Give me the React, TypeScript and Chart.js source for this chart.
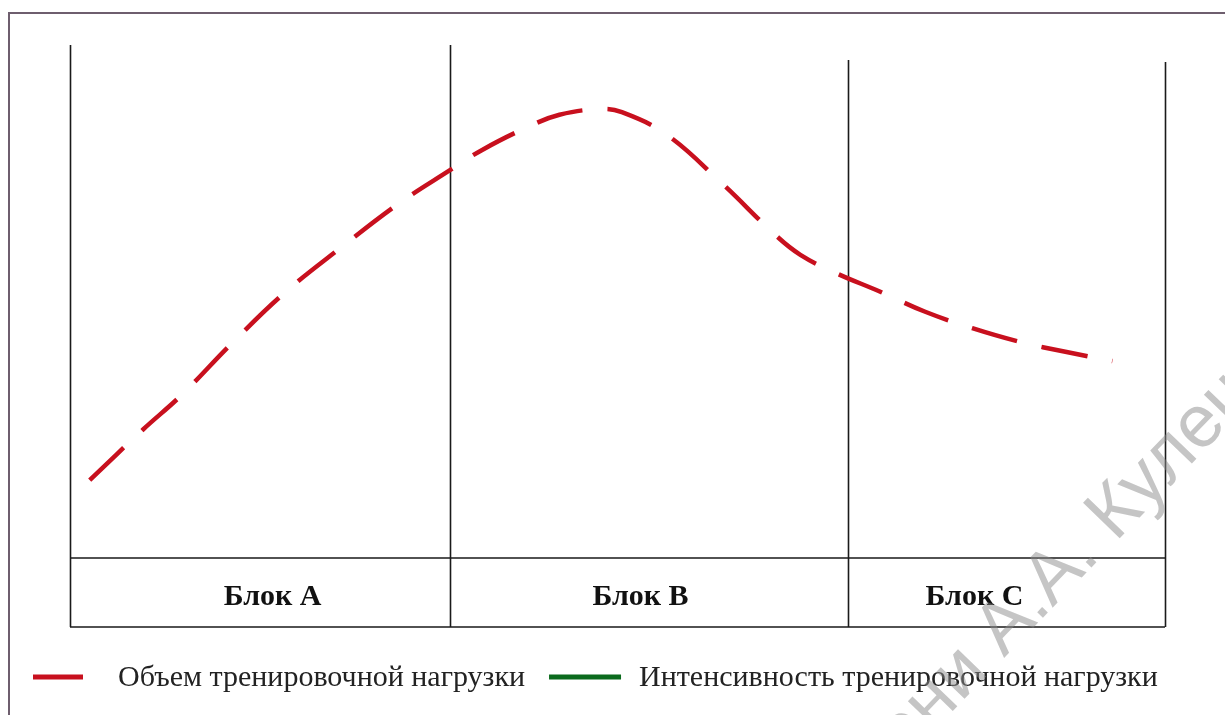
import React, { useEffect, useRef } from "react";
import { Chart, registerables } from "chart.js";

Chart.register(...registerables);

// ---- data ----
const blockLabels = ["Блок А", "Блок В", "Блок С"];
const blockEdges = [0, 34.7, 71.05, 100];
const blockEdgeTops = [100, 100, 97.1, 96.7];
const blockLabelX = [18.5, 52.1, 82.6];

const volumeX = [1.8, 6.7, 10.2, 14.8, 19.6, 24.8, 30.1, 34.7, 37.6, 41.8, 44.7, 48.4, 50.4, 54.5, 59.5, 64.4, 66.7, 69.9, 74.0, 78.1, 82.4, 86.8, 90.9, 95.2];
const volumeY = [15.2, 25.1, 31.8, 41.9, 51.7, 60.6, 69.2, 75.6, 79.5, 84.0, 86.4, 87.5, 86.9, 82.5, 73.1, 63.0, 59.1, 55.6, 51.9, 48.0, 44.8, 42.1, 40.2, 38.4];
const intensityX: number[] = [];
const intensityY: number[] = [];

const seriesNames = ["Объем тренировочной нагрузки", "Интенсивность тренировочной нагрузки"];
const seriesColors = ["#c8101e", "#0b6b1d"];

const watermarkLeft = "МГУ имени ";
const watermarkRight = "А.А. Кулешова";

const W = 1225;
const H = 715;

const decorPlugin = {
  id: "decor",
  beforeDatasetsDraw(chart: any) {
    const { ctx, chartArea, scales } = chart;
    const xs = scales.x;
    const ys = scales.y;
    const bottom = chartArea.bottom;
    const tableBottom = bottom + 69;
    ctx.save();
    // outer frame
    ctx.strokeStyle = "#6e5e6e";
    ctx.lineWidth = 2;
    ctx.strokeRect(9, 13, W + 20, H + 20);
    // table lines
    ctx.strokeStyle = "#1a1a1a";
    ctx.lineWidth = 1.6;
    const left = xs.getPixelForValue(blockEdges[0]);
    const right = xs.getPixelForValue(blockEdges[blockEdges.length - 1]);
    ctx.beginPath();
    ctx.moveTo(left, bottom);
    ctx.lineTo(right, bottom);
    ctx.moveTo(left, tableBottom);
    ctx.lineTo(right, tableBottom);
    blockEdges.forEach((v, i) => {
      const px = Math.round(xs.getPixelForValue(v)) + 0.5;
      ctx.moveTo(px, ys.getPixelForValue(blockEdgeTops[i]));
      ctx.lineTo(px, tableBottom);
    });
    ctx.stroke();
    // block labels
    ctx.fillStyle = "#111";
    ctx.font = "bold 30px 'Liberation Serif', 'DejaVu Serif', serif";
    ctx.textAlign = "center";
    ctx.textBaseline = "alphabetic";
    blockLabels.forEach((lab, i) => {
      ctx.fillText(lab, xs.getPixelForValue(blockLabelX[i]), bottom + 47);
    });
    ctx.restore();
  },
  afterDraw(chart: any) {
    const { ctx } = chart;
    ctx.save();
    // legend
    const swatchW = [50, 72];
    const gapAfterSwatch = [35, 18];
    const gapAfterText = 24;
    const legendY = 677;
    let x = 33;
    ctx.font = "30px 'Liberation Serif', 'DejaVu Serif', serif";
    ctx.textBaseline = "middle";
    ctx.textAlign = "left";
    chart.data.datasets.forEach((ds: any, i: number) => {
      ctx.strokeStyle = ds.borderColor;
      ctx.lineWidth = 5;
      ctx.setLineDash([]);
      ctx.beginPath();
      ctx.moveTo(x, legendY);
      ctx.lineTo(x + swatchW[i], legendY);
      ctx.stroke();
      x += swatchW[i] + gapAfterSwatch[i];
      ctx.fillStyle = "#222";
      ctx.fillText(ds.label, x, legendY + 1);
      x += ctx.measureText(ds.label).width + gapAfterText;
    });
    // watermark
    ctx.translate(1004, 658);
    ctx.rotate((-46 * Math.PI) / 180);
    ctx.font = "74px 'Liberation Sans', Arial, sans-serif";
    ctx.fillStyle = "rgba(140,140,140,0.5)";
    ctx.textBaseline = "alphabetic";
    ctx.textAlign = "left";
    ctx.fillText(watermarkRight, 0, 0);
    ctx.textAlign = "right";
    ctx.fillText(watermarkLeft, 0, 0);
    ctx.restore();
  },
};

export default function App() {
  const ref = useRef<HTMLCanvasElement | null>(null);
  useEffect(() => {
    document.body.style.margin = "0";
    const canvas = ref.current;
    if (!canvas) return;
    const chart = new Chart(canvas, {
      type: "line",
      data: {
        datasets: [
          {
            label: seriesNames[0],
            data: volumeX.map((x, i) => ({ x, y: volumeY[i] })),
            borderColor: seriesColors[0],
            borderWidth: 4.5,
            borderDash: [47, 25],
            borderCapStyle: "butt",
            tension: 0.4,
            pointRadius: 0,
            fill: false,
          },
          {
            label: seriesNames[1],
            data: intensityX.map((x, i) => ({ x, y: intensityY[i] })),
            borderColor: seriesColors[1],
            borderWidth: 4.5,
            pointRadius: 0,
            fill: false,
          },
        ],
      },
      options: {
        responsive: false,
        animation: false,
        devicePixelRatio: 1,
        layout: { padding: { left: 70, right: 60, top: 45, bottom: 157 } },
        scales: {
          x: { type: "linear", min: 0, max: 100, display: false },
          y: { type: "linear", min: 0, max: 100, display: false },
        },
        plugins: {
          legend: { display: false },
          tooltip: { enabled: false },
        },
      },
      plugins: [decorPlugin],
    } as any);
    return () => chart.destroy();
  }, []);
  return (
    <div style={{ width: W, height: H, background: "#fff", overflow: "hidden" }}>
      <canvas ref={ref} width={W} height={H} style={{ display: "block", width: W, height: H }} />
    </div>
  );
}
